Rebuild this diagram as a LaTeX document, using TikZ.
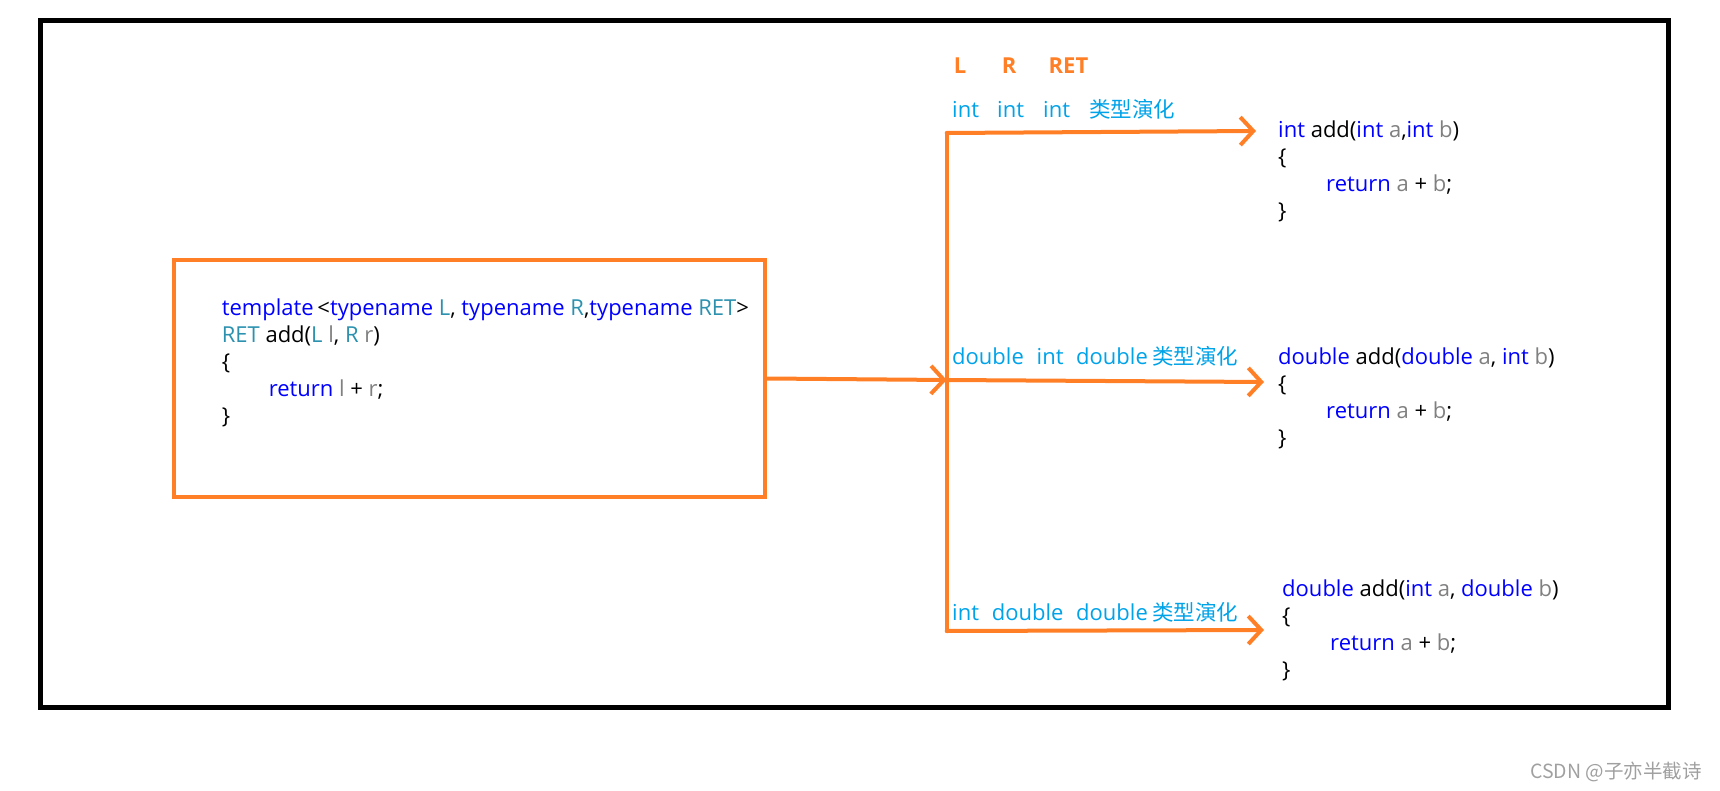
\documentclass[tikz,border=0pt]{standalone}
\usepackage{fontspec}
\setmainfont{Open Sans}
\newfontfamily\cjk{Noto Sans CJK SC}
\usetikzlibrary{arrows.meta}
\definecolor{org}{HTML}{FF7F27}
\definecolor{kw}{HTML}{0000FF}
\definecolor{ty}{HTML}{2B91AF}
\definecolor{vr}{HTML}{808080}
\definecolor{lb}{HTML}{00A2E8}
\definecolor{wm}{HTML}{A0A0A0}
\newcommand\kwd[1]{\textcolor{kw}{#1}}
\newcommand\typ[1]{\textcolor{ty}{#1}}
\newcommand\vrb[1]{\textcolor{vr}{#1}}
\begin{document}
\begin{tikzpicture}[x=1pt,y=-1pt,
  codeblk/.style={font=\fontsize{22}{27}\selectfont, align=left, anchor=west, inner sep=0pt},
  lbl/.style={font=\fontsize{22}{26}\selectfont, text=lb, anchor=base west, inner sep=0pt},
  hdr/.style={font=\bfseries\fontsize{22}{26}\selectfont, text=org, anchor=base, inner sep=0pt},
  oline/.style={draw=org, line width=4pt, line cap=round, line join=round},
  oarrow/.style={oline, -{Straight Barb[length=13pt,width=28pt]}},
  codebox/.style={draw=org, line width=4pt, minimum width=591pt, minimum height=237pt, inner sep=0pt}
]
\useasboundingbox (0,0) rectangle (1720,791);
% outer frame
\draw[line width=5pt, black] (40.5,20.5) rectangle (1668.5,707.5);
% template box
\node[codebox] (tpl) at (469,378.5) {};
\node[codeblk] (tplcode) at (221.6,363) {\kwd{template}\,<\kwd{typename} \typ{L}, \kwd{typename} \typ{R},\kwd{typename} \typ{RET}>\\
\typ{RET} add(\typ{L} \vrb{l}, \typ{R} \vrb{r})\\
\{\\
\hspace*{47pt}\kwd{return} \vrb{l} + \vrb{r};\\
\}};
% junction coordinates
\coordinate (jt) at (946.7,133);
\coordinate (jm) at (946.7,380);
\coordinate (jb) at (946.7,631);
\coordinate (t1) at (1256,131);
\coordinate (t2) at (1264,382);
\coordinate (t3) at (1264,630);
% connectors
\draw[oarrow] (tpl.east) -- (jm);
\draw[oline] (jt) -- (jb);
\draw[oarrow] (jt) -- (t1);
\draw[oarrow] (jm) -- (t2);
\draw[oarrow] (jb) -- (t3);
% headers
\node[hdr] (hL) at (960,74) {L};
\node[hdr] (hR) at (1009,74) {R};
\node[hdr] (hRET) at (1068.5,74) {RET};
% label row 1
\node[lbl] (a1) at (952,118) {int};
\node[lbl] (a2) at (997,118) {int};
\node[lbl] (a3) at (1043,118) {int};
\node[lbl, font=\cjk\fontsize{21.5}{26}\selectfont] (a4) at (1089,118) {类型演化};
% label row 2
\node[lbl] (b1) at (952,364.5) {double};
\node[lbl] (b2) at (1036.5,364.5) {int};
\node[lbl] (b3) at (1076,364.5) {double};
\node[lbl, font=\cjk\fontsize{21.5}{26}\selectfont] (b4) at (1152,364.5) {类型演化};
% label row 3
\node[lbl] (c1) at (952,620) {int};
\node[lbl] (c2) at (991.7,620) {double};
\node[lbl] (c3) at (1076,620) {double};
\node[lbl, font=\cjk\fontsize{21.5}{26}\selectfont] (c4) at (1152,620) {类型演化};
% right code blocks
\node[codeblk] (code1) at (1278,171) {\kwd{int} add(\kwd{int} \vrb{a},\kwd{int} \vrb{b})\\
\{\\
\hspace*{48pt}\kwd{return} \vrb{a} + \vrb{b};\\
\}};
\node[codeblk] (code2) at (1278,398.5) {\kwd{double} add(\kwd{double} \vrb{a}, \kwd{int} \vrb{b})\\
\{\\
\hspace*{48pt}\kwd{return} \vrb{a} + \vrb{b};\\
\}};
\node[codeblk] (code3) at (1282,630.5) {\kwd{double} add(\kwd{int} \vrb{a}, \kwd{double} \vrb{b})\\
\{\\
\hspace*{48pt}\kwd{return} \vrb{a} + \vrb{b};\\
\}};
% watermark
\node[font=\cjk\fontsize{19.5}{22}\selectfont, text=wm, anchor=base east, inner sep=0pt] (wmark) at (1702,778) {CSDN @子亦半截诗};
\end{tikzpicture}
\end{document}
